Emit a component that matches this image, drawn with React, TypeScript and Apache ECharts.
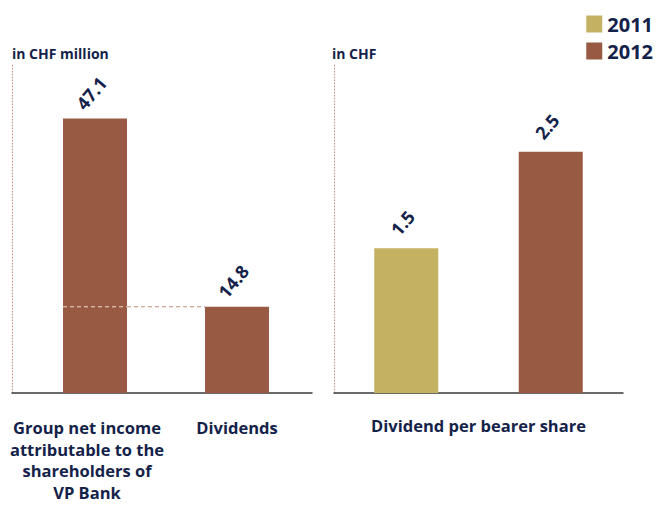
import React, { useEffect, useRef } from "react";
import * as echarts from "echarts";

const leftCategories = ["Group net income\nattributable to the\nshareholders of\nVP Bank", "Dividends"];
const leftValues2012 = [47.1, 14.8];
const rightCategories = ["2011", "2012"];
const rightValues2011: (number | string)[] = [1.5, "-"];
const rightValues2012: (number | string)[] = ["-", 2.5];
const rightAxisTitle = ["Dividend per bearer share"];
const legendNames = ["2011", "2012"];
const panelTitles = ["in CHF million", "in CHF"];

const GOLD = "#C4B262";
const BROWN = "#985A42";
const NAVY = "#14224A";
const FONT = "'Open Sans', 'Noto Sans', sans-serif";

export default function App() {
  const ref = useRef<HTMLDivElement>(null);
  useEffect(() => {
    if (!ref.current) return;
    const chart = echarts.init(ref.current, null, { renderer: "svg" });
    const barLabel = {
      show: true,
      position: "top",
      distance: 30,
      rotate: 50,
      align: "center",
      verticalAlign: "middle",
      offset: [-6, 0],
      fontSize: 18,
      fontWeight: "bold",
      fontFamily: FONT,
      color: NAVY,
      formatter: (p: any) => Number(p.value).toFixed(1),
    };
    const leftMax = 56.3;
    const rightMax = 3.4;
    const titleStyle = { fontSize: 14, fontWeight: "bold", color: NAVY, fontFamily: FONT };
    chart.setOption({
      animation: false,
      textStyle: { fontFamily: FONT },
      title: [
        { text: panelTitles[0], left: 12, top: 46, padding: 0, textStyle: titleStyle },
        { text: panelTitles[1], left: 332, top: 46, padding: 0, textStyle: titleStyle },
      ],
      legend: {
        data: legendNames,
        orient: "vertical",
        right: 6,
        top: 9,
        itemWidth: 16,
        itemHeight: 17,
        itemGap: 7,
        icon: "rect",
        selectedMode: false,
        textStyle: { fontSize: 20, fontWeight: "bold", color: NAVY, fontFamily: FONT },
      },
      grid: [
        { left: 12, width: 300, top: 65, height: 328 },
        { left: 24, width: 284, top: 65, height: 328 },
        { left: 334, width: 289, top: 65, height: 328 },
      ],
      xAxis: [
        {
          gridIndex: 0,
          type: "category",
          data: leftCategories,
          axisLine: { lineStyle: { color: "#3a3a3a", width: 1.5 } },
          axisTick: { length: 7, lineStyle: { color: "#3a3a3a", width: 1.5 } },
          axisLabel: { fontSize: 16.5, fontWeight: "bold", color: NAVY, fontFamily: FONT, lineHeight: 21.5, margin: 24, interval: 0 },
        },
        {
          gridIndex: 1,
          type: "category",
          data: leftCategories,
          show: false,
        },
        {
          gridIndex: 2,
          type: "category",
          data: rightCategories,
          axisLine: { lineStyle: { color: "#3a3a3a", width: 1.5 } },
          axisTick: { length: 7, lineStyle: { color: "#3a3a3a", width: 1.5 } },
          axisLabel: { show: false },
        },
        {
          gridIndex: 2,
          type: "category",
          data: rightAxisTitle,
          position: "bottom",
          axisLine: { show: false },
          axisTick: { show: false },
          axisLabel: { fontSize: 16.5, fontWeight: "bold", color: NAVY, fontFamily: FONT, margin: 24 },
        },
      ],
      yAxis: [
        {
          gridIndex: 0, type: "value", min: 0, max: leftMax,
          axisLine: { show: true, lineStyle: { color: "#c99a8a", type: [1, 2], width: 1 } },
          axisTick: { show: false }, axisLabel: { show: false }, splitLine: { show: false },
        },
        { gridIndex: 1, type: "value", min: 0, max: leftMax, show: false, splitLine: { show: false } },
        {
          gridIndex: 2, type: "value", min: 0, max: rightMax,
          axisLine: { show: true, lineStyle: { color: "#c99a8a", type: [1, 2], width: 1 } },
          axisTick: { show: false }, axisLabel: { show: false }, splitLine: { show: false },
        },
      ],
      series: [
        {
          name: "2012",
          type: "bar",
          xAxisIndex: 1,
          yAxisIndex: 1,
          data: leftValues2012,
          barWidth: 64,
          itemStyle: { color: BROWN },
          label: barLabel,
          z: 2,
        },
        {
          type: "custom",
          xAxisIndex: 1,
          yAxisIndex: 1,
          z: 5,
          silent: true,
          data: [[0, leftValues2012[1]]],
          renderItem: (params: any, api: any) => {
            const v = api.value(1);
            const a = api.coord([0, v]);
            const b = api.coord([1, v]);
            const half = 32;
            return {
              type: "group",
              children: [
                {
                  type: "line",
                  shape: { x1: a[0] - half, y1: a[1], x2: a[0] + half, y2: a[1] },
                  style: { stroke: "#f1ddd5", lineWidth: 1, lineDash: [4, 3] },
                },
                {
                  type: "line",
                  shape: { x1: a[0] + half, y1: a[1], x2: b[0] - half, y2: b[1] },
                  style: { stroke: "#c48f7d", lineWidth: 1, lineDash: [4, 3] },
                },
              ],
            };
          },
        },
        {
          name: "2011",
          type: "bar",
          xAxisIndex: 2,
          yAxisIndex: 2,
          data: rightValues2011,
          barWidth: 64,
          barGap: "-100%",
          itemStyle: { color: GOLD },
          label: barLabel,
        },
        {
          name: "2012",
          type: "bar",
          xAxisIndex: 2,
          yAxisIndex: 2,
          data: rightValues2012,
          barWidth: 64,
          barGap: "-100%",
          itemStyle: { color: BROWN },
          label: barLabel,
        },
      ],
    });
    return () => chart.dispose();
  }, []);
  return <div ref={ref} style={{ width: 664, height: 508, position: "absolute", left: 0, top: 0 }} />;
}
